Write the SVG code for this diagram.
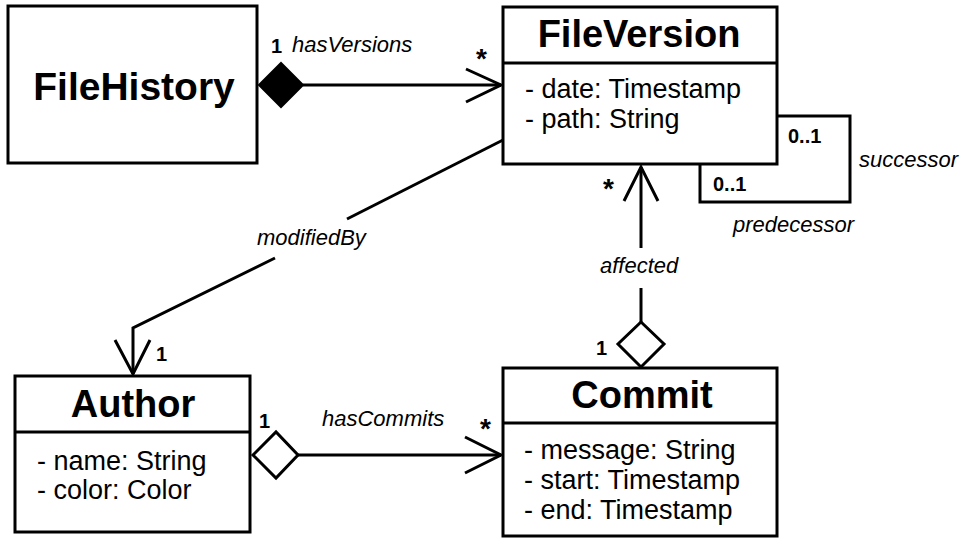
<svg xmlns="http://www.w3.org/2000/svg" width="964" height="539" viewBox="0 0 964 539">
<style>
.box{fill:#fff;stroke:#000;stroke-width:3}
.ln{fill:none;stroke:#000;stroke-width:3}
.title{font-family:"Liberation Sans",Arial,sans-serif;font-weight:bold;font-size:38px;text-anchor:middle}
.attr{font-family:"Liberation Sans",Arial,sans-serif;font-size:27px}
.lbl{font-family:"Liberation Sans",Arial,sans-serif;font-style:italic;font-size:22px}
.mult{font-family:"Liberation Sans",Arial,sans-serif;font-weight:bold;font-size:20px}
.star{font-family:"Liberation Sans",Arial,sans-serif;font-weight:bold;font-size:28px}
</style>
<rect width="964" height="539" fill="#fff"/>
<g id="connectors">
  <!-- hasVersions -->
  <line class="ln" x1="303" y1="85" x2="501" y2="85"/>
  <polyline class="ln" points="466,69 501,85 466,102"/>
  <polygon points="259,85 281,63 303,85 281,107" fill="#000" stroke="#000" stroke-width="2"/>
  <text class="mult" x="271" y="53">1</text>
  <text class="lbl" x="292" y="52">hasVersions</text>
  <text class="star" x="476" y="68">*</text>
  <!-- modifiedBy -->
  <line class="ln" x1="503" y1="140" x2="347" y2="219"/>
  <polyline class="ln" points="275,258 133,328 133,374"/>
  <polyline class="ln" points="115,340 133,374 150,340"/>
  <text class="lbl" x="257" y="245">modifiedBy</text>
  <text class="mult" x="156" y="361">1</text>
  <!-- affected -->
  <line class="ln" x1="641" y1="167" x2="641" y2="248"/>
  <line class="ln" x1="641" y1="288" x2="641" y2="322"/>
  <polyline class="ln" points="624,201 641,167 658,201"/>
  <polygon class="box" points="641,322 664,344 641,367 618,344"/>
  <text class="lbl" x="600" y="273">affected</text>
  <text class="star" x="603" y="198">*</text>
  <text class="mult" x="596" y="355">1</text>
  <!-- hasCommits -->
  <line class="ln" x1="298" y1="455" x2="501" y2="455"/>
  <polyline class="ln" points="465,437 501,455 465,473"/>
  <polygon class="box" points="253,455 276,432 298,455 276,478"/>
  <text class="mult" x="259" y="428">1</text>
  <text class="lbl" x="322" y="426">hasCommits</text>
  <text class="star" x="480" y="438">*</text>
  <!-- self loop -->
  <polyline class="ln" points="777,116 850,116 850,202 700,202 700,164"/>
  <text class="mult" x="788" y="143">0..1</text>
  <text class="mult" x="713" y="191">0..1</text>
  <text class="lbl" x="859" y="167">successor</text>
  <text class="lbl" x="733" y="232">predecessor</text>
</g>
<g id="FileHistory">
  <rect class="box" x="8" y="6" width="249" height="157"/>
  <text class="title" x="134" y="100" style="font-size:39px">FileHistory</text>
</g>
<g id="FileVersion">
  <rect class="box" x="503" y="7" width="274" height="157"/>
  <line class="ln" x1="503" y1="63" x2="777" y2="63"/>
  <text class="title" x="639" y="47">FileVersion</text>
  <text class="attr" x="525" y="98">- date: Timestamp</text>
  <text class="attr" x="525" y="128">- path: String</text>
</g>
<g id="Author">
  <rect class="box" x="15" y="376" width="235" height="156"/>
  <line class="ln" x1="15" y1="432" x2="250" y2="432"/>
  <text class="title" x="133" y="417">Author</text>
  <text class="attr" x="37" y="470">- name: String</text>
  <text class="attr" x="37" y="499">- color: Color</text>
</g>
<g id="Commit">
  <rect class="box" x="503" y="368" width="274" height="168"/>
  <line class="ln" x1="503" y1="423" x2="777" y2="423"/>
  <text class="title" x="642" y="408">Commit</text>
  <text class="attr" x="524" y="459">- message: String</text>
  <text class="attr" x="524" y="489">- start: Timestamp</text>
  <text class="attr" x="524" y="519">- end: Timestamp</text>
</g>
</svg>
